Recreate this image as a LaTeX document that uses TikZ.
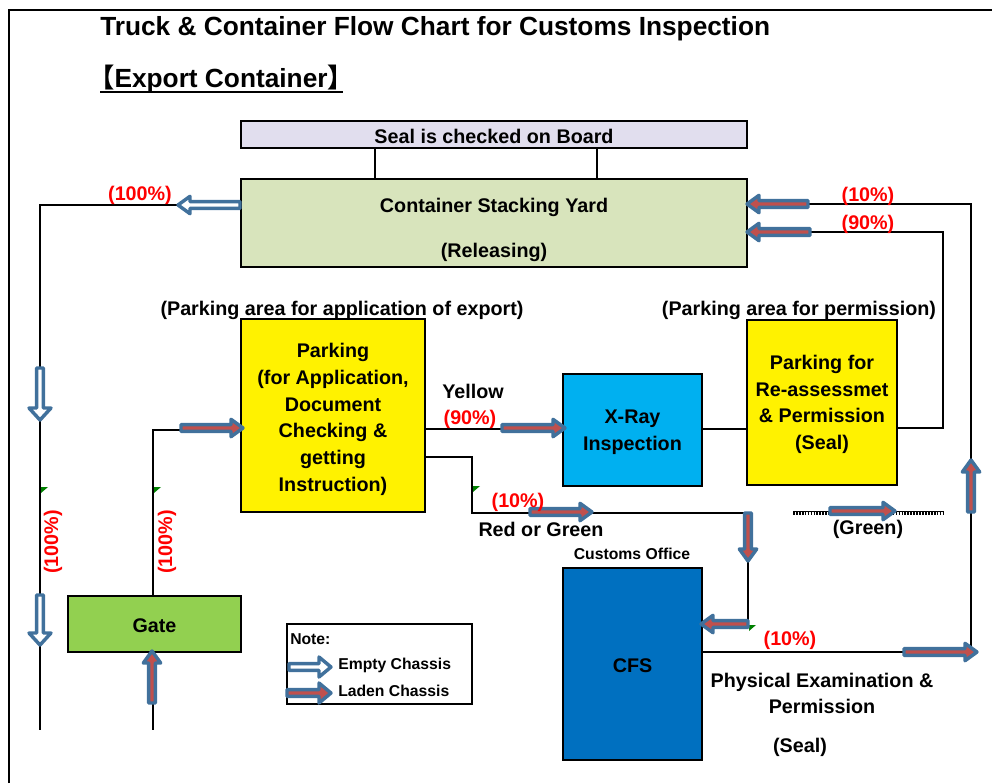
\documentclass[tikz,border=0pt]{standalone}
\usepackage{fontspec}
\setmainfont{Liberation Sans}
\newfontfamily\cjkfont{Noto Sans CJK JP}
\definecolor{arrowblue}{HTML}{41719C}
\definecolor{ladenred}{HTML}{C0504D}
\definecolor{sealfill}{HTML}{E1DEEE}
\definecolor{yardfill}{HTML}{D8E4BC}
\definecolor{gatefill}{HTML}{92D050}
\definecolor{xrayfill}{HTML}{00B0F0}
\definecolor{cfsfill}{HTML}{0070C0}
\definecolor{markgreen}{HTML}{008000}

% block arrow: style, tip x, tip y, direction angle, length, head half-width
\newcommand{\chassis}[6]{%
  \begin{scope}[shift={(#2,#3)},rotate=#4]
    \draw[#1] (0,0) -- (-12,#6) -- (-12,3.3) -- (-#5,3.3) -- (-#5,-3.3)
      -- (-12,-3.3) -- (-12,-#6) -- cycle;
  \end{scope}}

\begin{document}
\begin{tikzpicture}[x=0.75pt,y=-0.75pt,
  box/.style={draw=black, line width=2.2pt, inner sep=0pt},
  lbl/.style={inner sep=0pt, align=center, yshift=-1.5pt,
    font=\bfseries\fontsize{14.8}{20}\selectfont},
  pct/.style={lbl, text=red},
  small/.style={inner sep=0pt, yshift=-1pt, font=\bfseries\fontsize{11.8}{14}\selectfont},
  conn/.style={draw=black, line width=1.4pt},
  empty/.style={draw=arrowblue, fill=white, line width=2.6pt, line join=round},
  laden/.style={draw=arrowblue, fill=ladenred, line width=2.6pt, line join=round},
  cellmark/.style={fill=markgreen}]
\useasboundingbox (0,0) rectangle (992,783);

% frame
\draw[line width=2pt] (9,783) -- (9,10) -- (992,10);

% headings
\node[anchor=west, inner sep=0pt, font=\bfseries\fontsize{19.7}{24}\selectfont] (title) at (100,29)
  {Truck \& Container Flow Chart for Customs Inspection};
\node[anchor=west, inner sep=0pt, font=\bfseries\fontsize{19.7}{24}\selectfont] (export) at (88,79)
  {{\cjkfont 【}Export Container{\cjkfont 】}};
\draw[line width=2pt] (100,92) -- (343,92);

% boxes
\node[box, fill=sealfill, minimum width=379.5pt, minimum height=20.25pt] (seal) at (494,134.5) {};
\node[lbl] (sealT) at (494,134.5) {Seal is checked on Board};
\node[box, fill=yardfill, minimum width=379.5pt, minimum height=66pt] (yard) at (494,223) {};
\node[lbl] (yardA) at (494,205) {Container Stacking Yard};
\node[lbl] (yardB) at (494,250) {(Releasing)};
\node[box, fill=yellow, minimum width=138pt, minimum height=144.75pt] (park) at (333,415.5) {};
\node[lbl] (parkT) at (333,417.5)
  {Parking\\(for Application,\\Document\\Checking \&\\getting\\Instruction)};
\node[box, fill=xrayfill, minimum width=104.25pt, minimum height=84pt] (xray) at (632.5,430) {};
\node[lbl] (xrayT) at (632.5,430.5) {X-Ray\\Inspection};
\node[box, fill=yellow, minimum width=112.5pt, minimum height=123.75pt] (perm) at (822,402.5) {};
\node[lbl] (permT) at (822,402.5) {Parking for\\Re-assessmet\\\& Permission\\(Seal)};
\node[box, fill=gatefill, minimum width=129.75pt, minimum height=42pt] (gate) at (154.5,624) {};
\node[lbl] (gateT) at (154.5,624) {Gate};
\node[box, fill=cfsfill, minimum width=104.25pt, minimum height=144pt] (cfs) at (632.5,664) {};
\node[lbl] (cfsT) at (632.5,664) {CFS};
\node[box, line width=1.3pt, minimum width=138.75pt, minimum height=60pt] (note) at (379.5,664) {};

% seal links
\draw[conn] (seal.south -| 375,0) -- (yard.north -| 375,0);
\draw[conn] (seal.south -| 597,0) -- (yard.north -| 597,0);

% routes
\coordinate (outTop) at (40,205);
\coordinate (outEnd) at (40,730);
\draw[conn] (yard.west |- outTop) -- (outTop) -- (outEnd);

\coordinate (inCorner) at (153,430);
\coordinate (inEnd) at (153,730);
\draw[conn] (gate.north -| inCorner) -- (inCorner) -- (park.west |- inCorner);
\draw[conn] (gate.south -| inEnd) -- (inEnd);

\draw[conn] (park.east |- 0,429) -- (xray.west |- 0,429);
\draw[conn] (xray.east |- 0,429) -- (perm.west |- 0,429);

\coordinate (rg1) at (472,457);
\coordinate (rg2) at (472,513);
\coordinate (rg3) at (748,513);
\coordinate (rg4) at (748,624);
\draw[conn] (park.east |- rg1) -- (rg1) -- (rg2) -- (rg3) -- (rg4) -- (cfs.east |- rg4);

\coordinate (pm1) at (943,428);
\coordinate (pm2) at (943,232);
\draw[conn] (perm.east |- pm1) -- (pm1) -- (pm2) -- (yard.east |- pm2);

\coordinate (px1) at (971,652);
\coordinate (px2) at (971,204);
\draw[conn] (cfs.east |- px1) -- (px1) -- (px2) -- (yard.east |- px2);

% hatched green route
\coordinate (gr1) at (793,513);
\coordinate (gr2) at (944,513);
\draw[line width=0.7pt] ([yshift=0.8pt]gr1) -- ([yshift=0.8pt]gr2);
\draw[line width=2pt, dash pattern=on 1.3pt off 0.9pt] ([yshift=-0.4pt]gr1) -- ([yshift=-0.4pt]gr2);

% Excel cell marks
\fill[cellmark] (41,487) -- ++(7,0) -- ++(-7,6) -- cycle;
\fill[cellmark] (154,487) -- ++(7,0) -- ++(-7,6) -- cycle;
\fill[cellmark] (473,486) -- ++(7,0) -- ++(-7,6) -- cycle;
\fill[cellmark] (749,625) -- ++(7,0) -- ++(-7,6) -- cycle;

% chassis arrows
\chassis{empty}{178}{205}{180}{62}{8.7}
\chassis{empty}{40}{420}{270}{52}{11}
\chassis{empty}{40}{645}{270}{50}{11}
\chassis{laden}{243}{428}{0}{62}{8.7}
\chassis{laden}{152}{651}{90}{52}{8.7}
\chassis{laden}{565}{428}{0}{63}{8.7}
\chassis{laden}{592}{512}{0}{62}{8.7}
\chassis{laden}{747}{204}{180}{61}{8.7}
\chassis{laden}{747}{232}{180}{63}{8.7}
\chassis{laden}{748}{561}{270}{48}{8.7}
\chassis{laden}{701}{624}{180}{47}{8.7}
\chassis{laden}{895}{511}{0}{65}{8.7}
\chassis{laden}{977}{652}{0}{73}{8.7}
\chassis{laden}{971}{460}{90}{52}{8.7}

% labels
\node[pct] (p100a) at (140,193) {(100\%)};
\node[pct] (p10a) at (868,194) {(10\%)};
\node[pct] (p90a) at (868,222) {(90\%)};
\node[lbl] (areaA) at (342,308) {(Parking area for application of export)};
\node[lbl] (areaB) at (799,308) {(Parking area for permission)};
\node[lbl] (yel) at (473,389) {Yellow};
\node[pct] (p90b) at (470,417) {(90\%)};
\node[pct] (p10b) at (518,500) {(10\%)};
\node[lbl] (rg) at (541,527) {Red or Green};
\node[small] (office) at (632,553) {Customs Office};
\node[lbl] (green) at (868,527) {(Green)};
\node[pct] (p10c) at (790,638) {(10\%)};
\node[lbl] (phys) at (822,691.5) {Physical Examination \&\\Permission};
\node[lbl] (physseal) at (800,745) {(Seal)};
\node[pct, rotate=90, yshift=1.5pt] (p100b) at (55,540) {(100\%)};
\node[pct, rotate=90, yshift=1.5pt] (p100c) at (169,540) {(100\%)};

% legend
\node[small, anchor=west] (noteT) at (290,638) {Note:};
\chassis{empty}{331}{667}{0}{42}{10}
\node[small, anchor=west] (noteE) at (338,664) {Empty Chassis};
\chassis{laden}{331}{693}{0}{44}{10}
\node[small, anchor=west] (noteL) at (338,690) {Laden Chassis};
\end{tikzpicture}
\end{document}
